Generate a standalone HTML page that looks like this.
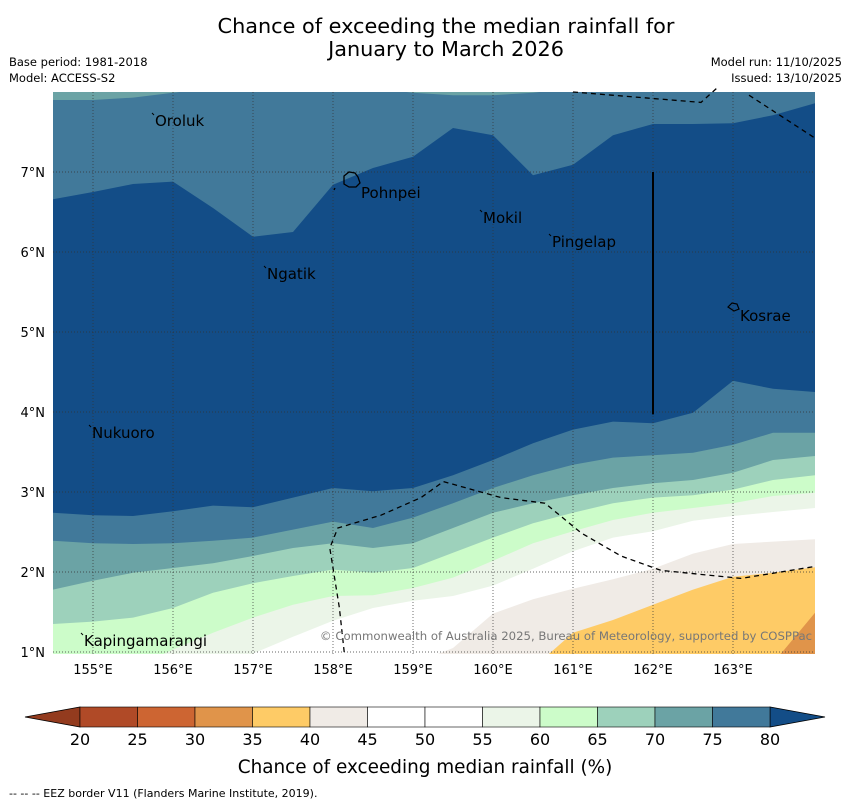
<!DOCTYPE html>
<html><head><meta charset="utf-8">
<style>
body{margin:0;background:#fff;font-family:"Liberation Sans","DejaVu Sans",sans-serif;}
svg text{font-family:"DejaVu Sans","Liberation Sans",sans-serif;}
</style></head>
<body>
<svg id="c" width="850" height="804" viewBox="0 0 850 804" xmlns="http://www.w3.org/2000/svg">
<text x="446" y="33" font-size="20.8" text-anchor="middle">Chance of exceeding the median rainfall for</text>
<text x="446" y="56" font-size="20.8" text-anchor="middle">January to March 2026</text>
<text x="9" y="66" font-size="11.5">Base period: 1981-2018</text>
<text x="9" y="82" font-size="11.5">Model: ACCESS-S2</text>
<text x="842" y="66" font-size="11.5" text-anchor="end">Model run: 11/10/2025</text>
<text x="842" y="82" font-size="11.5" text-anchor="end">Issued: 13/10/2025</text>
<defs><clipPath id="mc"><rect x="53" y="92" width="762" height="562"/></clipPath></defs>
<g id="map" clip-path="url(#mc)"></g>
<g id="over"></g>
<g id="axes"></g>
<g id="cbar"></g>
<text x="425" y="773" font-size="18.4" text-anchor="middle">Chance of exceeding median rainfall (%)</text>
<text x="9" y="797" font-size="11">--  --  -- EEZ border V11 (Flanders Marine Institute, 2019).</text>
</svg>
<script>
const lons=[154.5,155,155.5,156,156.5,157,157.5,158,158.5,159,159.5,160,160.5,161,161.5,162,162.5,163,163.5,164.025];
// boundary latitudes (bottom-up contours)
const c35=[0.6,0.6,0.6,0.6,0.6,0.6,0.6,0.6,0.6,0.6,0.6,0.6,0.6,0.6,0.6,0.6,0.6,0.6,0.86,1.49];
const c40=[0.6,0.6,0.6,0.6,0.6,0.6,0.6,0.6,0.6,0.6,0.6,0.6,0.8,1.24,1.4,1.59,1.78,1.94,1.99,2.06];
const c45=[0.6,0.6,0.6,0.6,0.6,0.6,0.6,0.6,0.6,0.85,1.05,1.48,1.66,1.79,1.91,2.04,2.23,2.35,2.38,2.41];
const c55=[0.6,0.6,0.6,0.6,0.6,0.98,1.19,1.39,1.55,1.64,1.7,1.83,2.04,2.26,2.43,2.51,2.64,2.7,2.75,2.8];
const c60=[0.8,0.8,0.8,1.03,1.24,1.43,1.59,1.7,1.71,1.8,1.93,2.14,2.36,2.51,2.65,2.74,2.8,2.86,2.95,2.99];
const c65=[1.35,1.38,1.43,1.55,1.74,1.86,1.95,2.03,1.99,2.05,2.24,2.43,2.61,2.74,2.86,2.93,2.96,3.03,3.15,3.21];
const c70=[1.78,1.89,1.99,2.05,2.11,2.2,2.3,2.36,2.3,2.36,2.55,2.74,2.86,2.96,3.05,3.11,3.15,3.24,3.4,3.45];
const c75=[2.39,2.36,2.35,2.36,2.39,2.43,2.53,2.63,2.55,2.68,2.86,3.05,3.21,3.34,3.43,3.46,3.49,3.59,3.74,3.74];
const c80=[2.74,2.71,2.7,2.76,2.83,2.81,2.93,3.05,3.01,3.05,3.21,3.4,3.61,3.78,3.88,3.86,3.99,4.39,4.29,4.25];
// top contours (top-down)
const t80=[6.66,6.75,6.85,6.88,6.55,6.19,6.25,6.84,7.05,7.19,7.55,7.46,6.96,7.09,7.46,7.6,7.6,7.61,7.71,7.86];
const t75=[7.9,7.9,7.93,7.99,8.05,8.05,8.05,8.05,8.05,7.99,7.96,7.96,7.99,8.05,8.05,8.05,8.05,8.05,8.05,8.05];
const legendLevels=[20,25,30,35,40,45,50,55,60,65,70,75,80];
const bandColors=["#b04a27","#cd6532","#e0944a","#fecb66","#f0ebe6","#ffffff","#ffffff","#ebf5e8","#ccfcc9","#9dd1bb","#6ba3a5","#41799a"];
const lonTicks=[155,156,157,158,159,160,161,162,163];
const latTicks=[1,2,3,4,5,6,7];
const islands=[["Oroluk",155.775,7.575],["Pohnpei",158.35,6.675],["Mokil",159.875,6.3625],["Pingelap",160.7375,6.0625],["Ngatik",157.175,5.6625],["Kosrae",163.0875,5.1375],["Nukuoro",154.9875,3.675],["Kapingamarangi",154.8875,1.075]];
const eezTop=[[161,8.0],[162.6,7.87],[162.8,8.05]];
const eezTop2=[[163.2,7.96],[164.03,7.42]];
const eezBot=[[158.14,1.0],[158.08,1.55],[157.96,2.3],[158.06,2.55],[158.6,2.71],[159.1,2.93],[159.38,3.13],[160.1,2.93],[160.65,2.86],[161.1,2.49],[161.6,2.2],[162.1,2.02],[163.1,1.92],[164.03,2.07]];
const X=l=>53+(l-154.5)*80, Y=a=>652-(a-1)*80;
const NS="http://www.w3.org/2000/svg";
function mk(t,at,p){const e=document.createElementNS(NS,t);for(const k in at)e.setAttribute(k,at[k]);p.appendChild(e);return e;}
const map=document.getElementById('map');
function above(arr,col,name){let d=`M${X(lons[0])},90 `;lons.forEach((l,i)=>d+=`L${X(l)},${Y(arr[i])} `);d+=`L${X(lons[lons.length-1])},90 Z`;const p=mk('path',{d:d,fill:col},map);}
const below=above;
const bg=mk('rect',{x:53,y:92,width:762,height:562,fill:"#e0944a"},map);


above(c35,"#fecb66","band-35-40");
above(c40,"#f0ebe6","band-40-45");
above(c45,"#ffffff","band-45-55");
above(c55,"#ebf5e8","band-55-60");
above(c60,"#ccfcc9","band-60-65");
above(c65,"#9dd1bb","band-65-70");
above(c70,"#6ba3a5","band-70-75");
above(c75,"#41799a","band-75-80");
above(c80,"#134d87","band-80-plus");
below(t80,"#41799a","band-75-80-top");
below(t75,"#6ba3a5","band-70-75-top");
const over=document.getElementById('over');
lonTicks.forEach(l=>{const e=mk('line',{x1:X(l),x2:X(l),y1:92,y2:654,stroke:"#333","stroke-width":0.7,"stroke-dasharray":"1,2"},over);});
latTicks.forEach(a=>{const e=mk('line',{x1:53,x2:815,y1:Y(a),y2:Y(a),stroke:"#333","stroke-width":0.7,"stroke-dasharray":"1,2"},over);});
[eezTop,eezTop2,eezBot].forEach(pts=>{const e=mk('polyline',{points:pts.map(p=>X(p[0])+','+Y(p[1])).join(' '),fill:"none",stroke:"#000","stroke-width":1.3,"stroke-dasharray":"5,4"},over);});
const sl=mk('line',{x1:X(162),x2:X(162),y1:Y(7),y2:Y(3.97),stroke:"#000","stroke-width":2},over);


const pk=mk('path',{d:"M344,176 l5,-4 l6,1 l3,4 l2,6 l-4,4 l-7,0 l-5,-3 z M334,190 l1,-2",fill:"none",stroke:"#000","stroke-width":1.3},over);


const ko=mk('path',{d:"M728,307 l4,-4 l5,1 l2,5 l-5,2 z",fill:"none",stroke:"#000","stroke-width":1.2},over);


islands.forEach(s=>{const t=mk('text',{x:X(s[1]),y:Y(s[2]),"font-size":15},over);t.textContent=s[0];
if(s[0]!=="Pohnpei"&&s[0]!=="Kosrae"){const d=mk('line',{x1:X(s[1])-3,y1:Y(s[2])-13,x2:X(s[1])-1,y2:Y(s[2])-11,stroke:"#000","stroke-width":1},over);}});
const cp=mk('text',{x:566,y:640,"font-size":11.7,fill:"#777","text-anchor":"middle"},over);
cp.textContent="© Commonwealth of Australia 2025, Bureau of Meteorology, supported by COSPPac";


const axes=document.getElementById('axes');
lonTicks.forEach(l=>{const t=mk('text',{x:X(l),y:674,"font-size":13,"text-anchor":"middle"},axes);t.textContent=l+"°E";});
latTicks.forEach(a=>{const t=mk('text',{x:45,y:Y(a)+5,"font-size":13,"text-anchor":"end"},axes);t.textContent=a+"°N";});
const cb=document.getElementById('cbar');
const cx=v=>80+(v-20)*(690/60);
const lt=mk('polygon',{points:`25,717 ${cx(20)},707 ${cx(20)},727`,fill:"#933b1e",stroke:"#000","stroke-width":0.8},cb);


const rt=mk('polygon',{points:`825,717 ${cx(80)},707 ${cx(80)},727`,fill:"#134d87",stroke:"#000","stroke-width":0.8},cb);


bandColors.forEach((c,i)=>{const r=mk('rect',{x:cx(legendLevels[i]),y:707,width:cx(legendLevels[i+1])-cx(legendLevels[i]),height:20,fill:c,stroke:"#000","stroke-width":0.6},cb);});
legendLevels.forEach(v=>{const t=mk('text',{x:cx(v),y:745,"font-size":16,"text-anchor":"middle"},cb);t.textContent=v;});
</script>
</body></html>
